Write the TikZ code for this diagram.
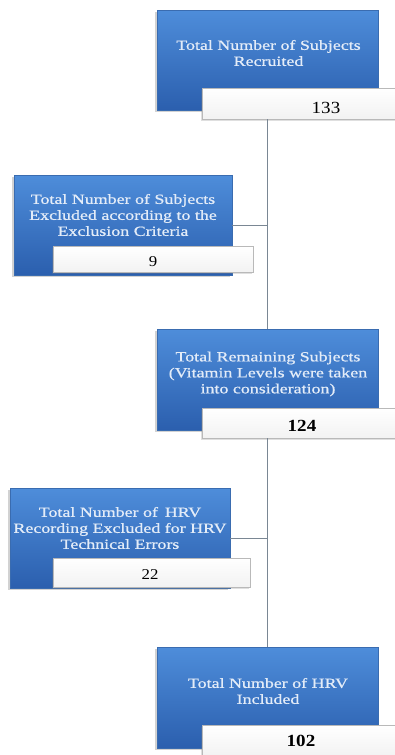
\documentclass[tikz,border=0pt]{standalone}
\usepackage{fontspec}
\setmainfont[FakeStretch=1.3]{Liberation Serif}
\newfontfamily\boxfont[FakeStretch=1.28,FakeBold=0.7]{Liberation Serif}
\newfontfamily\numfont[FakeStretch=1.12]{Liberation Serif}
\usetikzlibrary{shadows}
\definecolor{bluetop}{HTML}{4E8DDA}
\definecolor{bluebot}{HTML}{2B5FAE}
\definecolor{blueedge}{HTML}{3A6CB0}
\definecolor{boxtext}{HTML}{E3ECF8}
\definecolor{connc}{HTML}{7A8794}
\begin{document}
\begin{tikzpicture}[x=1pt,y=-1pt,
  bluebox/.style={draw=blueedge, line width=0.5pt, top color=bluetop, bottom color=bluebot,
    inner sep=0pt, minimum height=100pt,
    drop shadow={shadow xshift=-2pt, shadow yshift=-2pt, opacity=0.35}},
  whitebox/.style={draw=gray!55, line width=0.6pt, top color=white, bottom color=gray!10,
    inner sep=0pt,
    drop shadow={shadow xshift=-1.5pt, shadow yshift=-1.5pt, opacity=0.25}},
  btext/.style={text=boxtext, align=center, inner sep=0pt, font=\boxfont\fontsize{14}{16}\selectfont},
  bignum/.style={inner sep=0pt, font=\numfont\fontsize{17}{19}\selectfont},
  smallnum/.style={inner sep=0pt, font=\numfont\fontsize{15}{17}\selectfont},
  conn/.style={draw=connc, line width=1pt}]
\clip (0,0) rectangle (395,755);
\fill[white] (0,0) rectangle (395,755);
% boxes
\node[bluebox, minimum width=221pt] (b1) at (267.5,60) {};
\node[bluebox, minimum width=218pt] (b2) at (123,225) {};
\node[bluebox, minimum width=221pt, minimum height=101pt] (b3) at (267.5,379.5) {};
\node[bluebox, minimum width=220pt] (b4) at (120,538) {};
\node[bluebox, minimum width=221pt, minimum height=101pt] (b5) at (267.5,697.5) {};
\node[btext] (t1) at (268.5,53) {Total Number of Subjects\\Recruited};
\node[btext] (t2) at (123,215) {Total Number of Subjects\\Excluded according to the\\Exclusion Criteria};
\node[btext] (t3) at (268,374) {Total Remaining Subjects\\(Vitamin Levels were taken\\into consideration)};
\node[btext] (t4) at (120,528) {Total Number of \,HRV\\Recording Excluded for HRV\\Technical Errors};
\node[btext] (t5) at (268,691) {Total Number of HRV\\Included};
\node[whitebox, minimum width=224pt, minimum height=31pt] (w1) at (314,103.5) {};
\node[whitebox, minimum width=200pt, minimum height=26pt] (w2) at (153,259.5) {};
\node[whitebox, minimum width=224pt, minimum height=30pt] (w3) at (314,423) {};
\node[whitebox, minimum width=197pt, minimum height=29pt] (w4) at (151.5,572.5) {};
\node[whitebox, minimum width=224pt, minimum height=32pt] (w5) at (314,741) {};
\node[bignum] (n1) at (326,108) {133};
\node[smallnum] (n2) at (153,262) {9};
\node[bignum] (n3) at (302,425.5) {\bfseries 124};
\node[smallnum] (n4) at (150,575) {22};
\node[bignum] (n5) at (301,741) {\bfseries 102};
% connectors
\draw[conn] (w1.south -| b1.south) -- (b3.north);
\draw[conn] (w3.south -| b3.south) -- (b5.north);
\draw[conn] (b2.east) -- (b2.east -| b1.south);
\draw[conn] (b4.east) -- (b4.east -| b3.south);
\end{tikzpicture}
\end{document}
